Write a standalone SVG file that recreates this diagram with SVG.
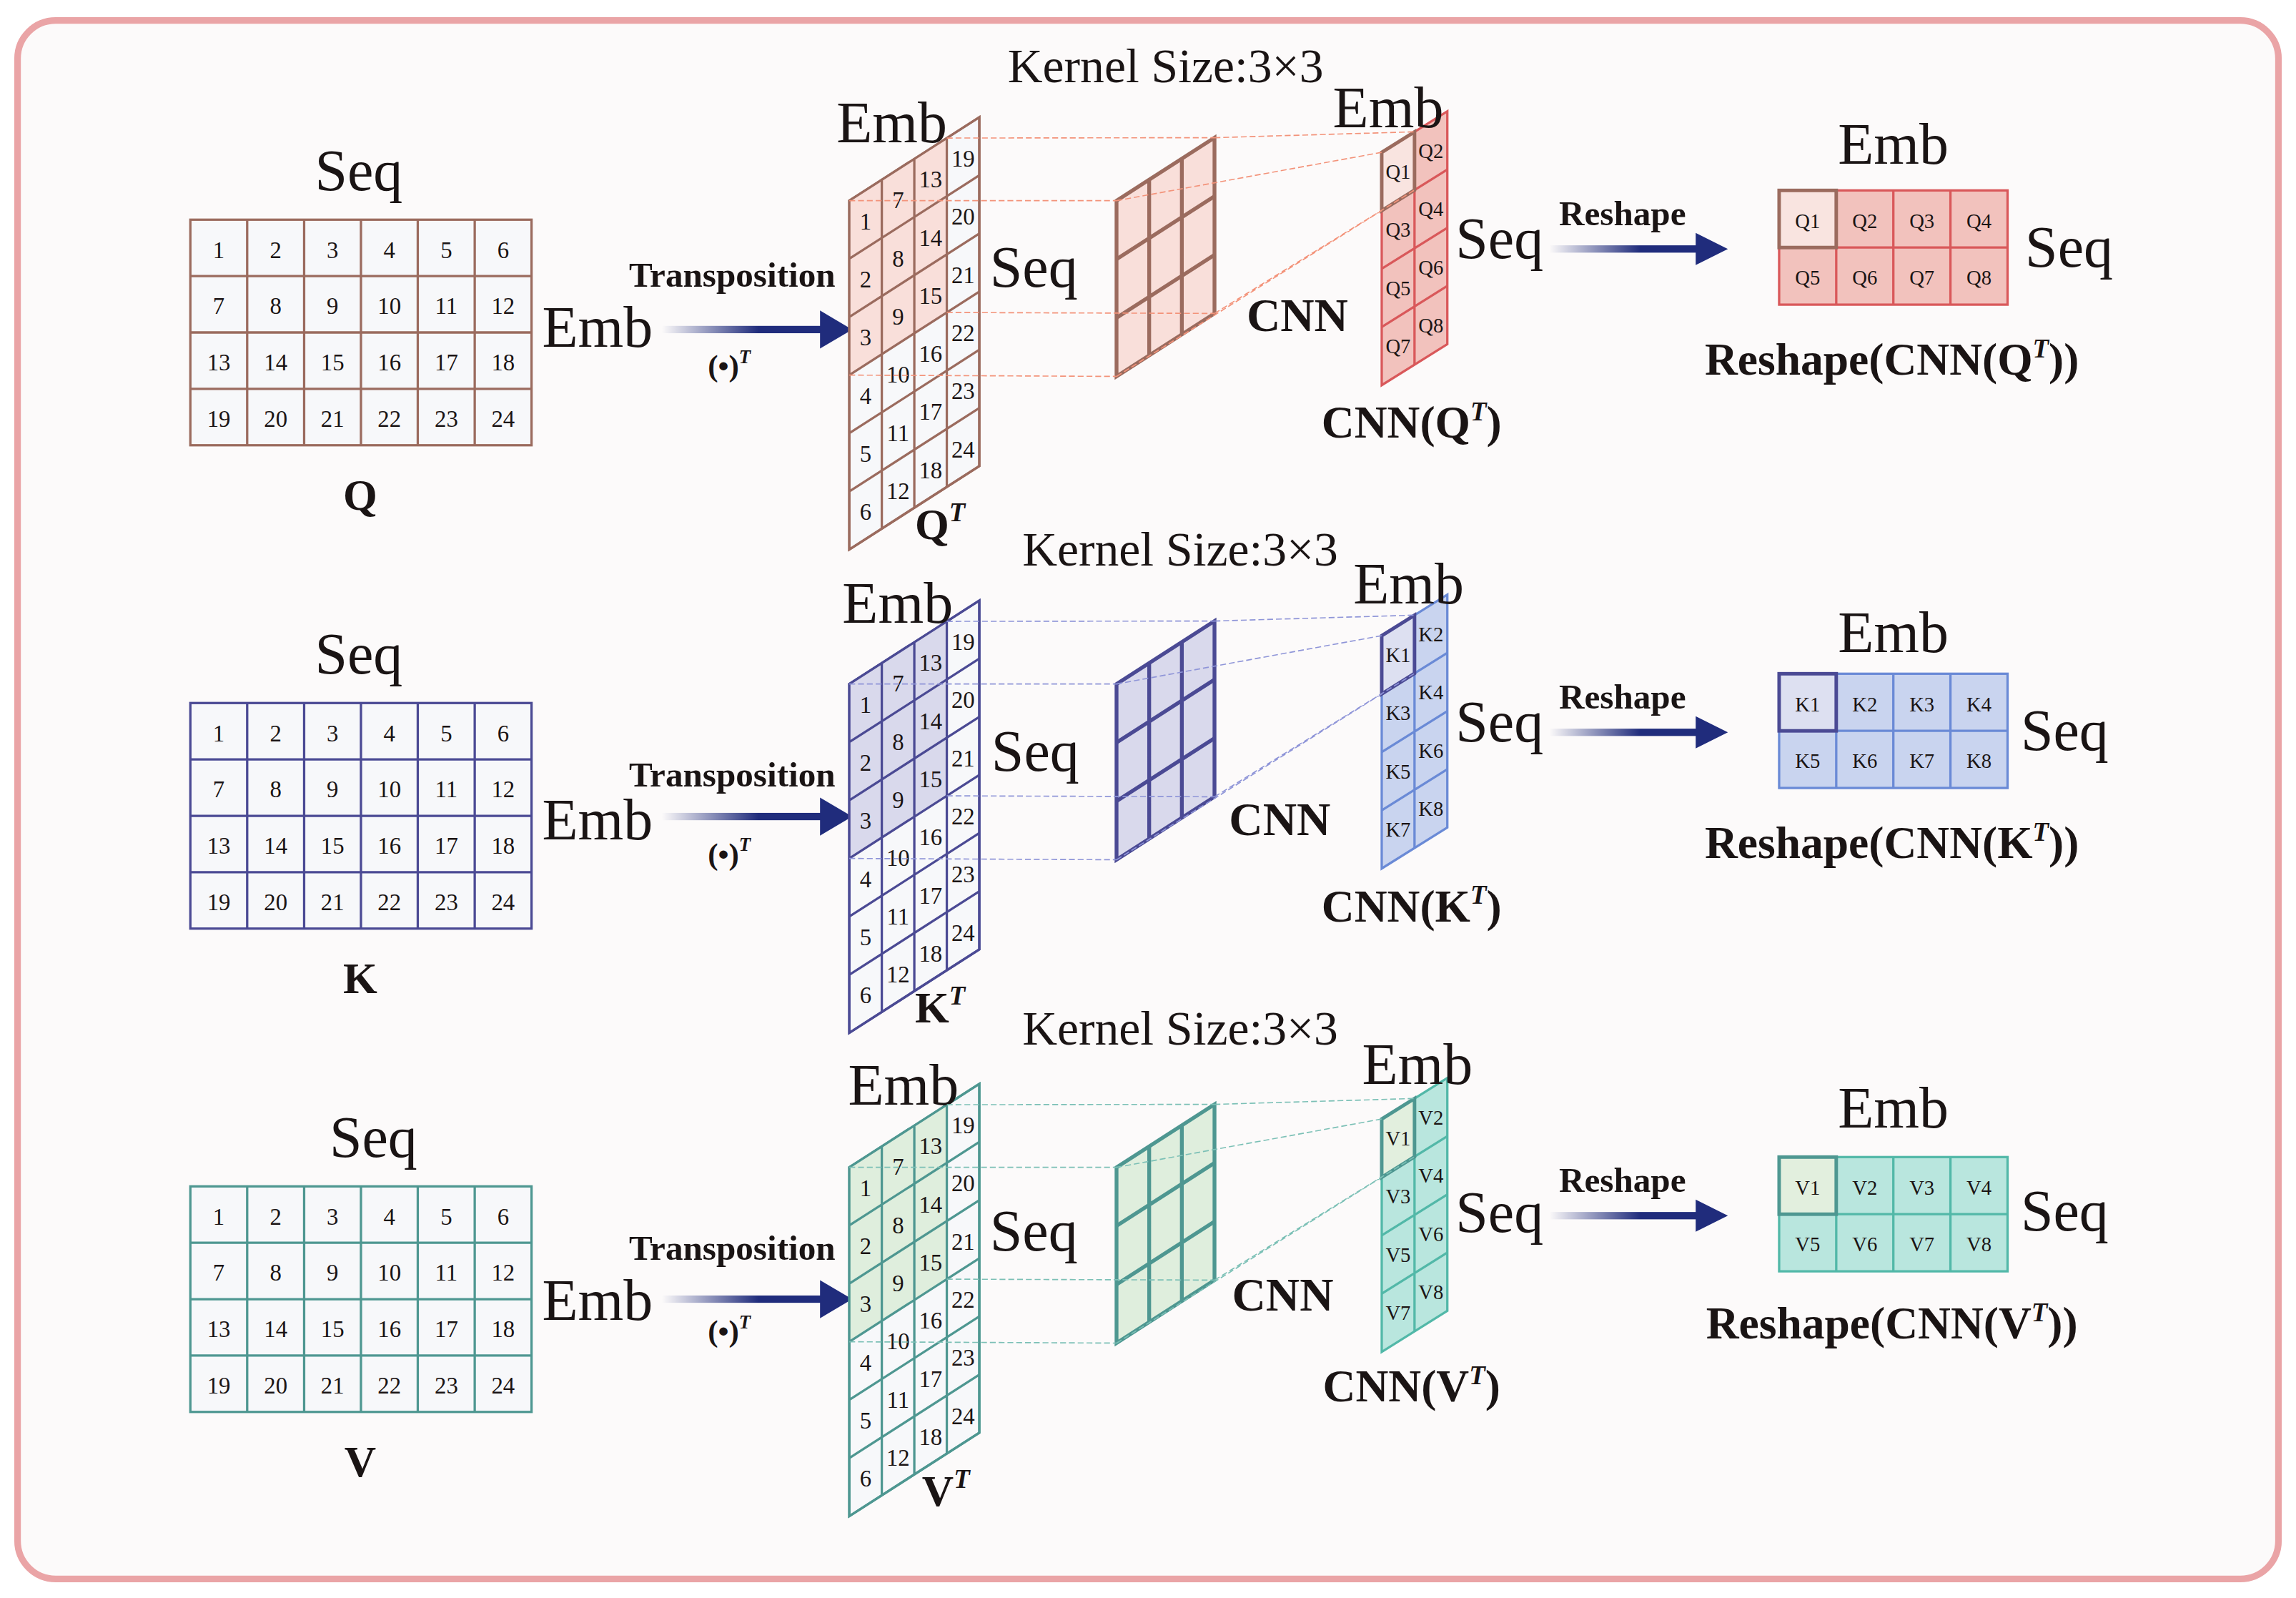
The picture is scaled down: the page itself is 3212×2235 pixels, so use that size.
<svg xmlns="http://www.w3.org/2000/svg" width="3212" height="2235" viewBox="0 0 3212 2235">
<style>
text{font-family:"Liberation Serif","Times New Roman",serif;fill:#1a1414}
.b{font-weight:bold}
.big{font-size:40px}
.num{font-size:16px;text-anchor:middle}
.sm{font-size:14px;text-anchor:middle}
.m{text-anchor:middle}
.sec{--s:#9b6b5e;--r:#f9dfda;--of:#f2c2bd;--os:#d9585a;--h:#f9e4e0;--d:#f3937a}
.sk{--s:#4b4a94;--r:#d9d9ec;--of:#c9d4ef;--os:#6a8ad6;--h:#dde0f1;--d:#8f95d8}
.sv{--s:#4e9791;--r:#dfeedd;--of:#b9e6de;--os:#52b8a8;--h:#e2efde;--d:#7cc0b6}
.g{fill:#f7f8fa;stroke:var(--s);stroke-width:1.6}
.gl{fill:none;stroke:var(--s);stroke-width:1.6}
.rg{fill:var(--r);stroke:none}
.kr{fill:var(--r);stroke:var(--s);stroke-width:2.6}
.kl{fill:none;stroke:var(--s);stroke-width:2.6}
.of{fill:var(--of);stroke:var(--os);stroke-width:1.6}
.ol{fill:none;stroke:var(--os);stroke-width:1.6}
.hi{fill:var(--h);stroke:var(--s);stroke-width:2.4}
.ds{fill:none;stroke:var(--d);stroke-width:0.8;stroke-dasharray:4 2}
.ah{fill:#202c7c}
</style>
<defs>
<linearGradient id="ag" x1="0" y1="0" x2="1" y2="0"><stop offset="0" stop-color="#202c7c" stop-opacity="0"/><stop offset="0.6" stop-color="#202c7c"/></linearGradient>
<g id="grid6">
<rect class="g" x="130" y="150" width="233" height="154"/>
<path class="gl" d="M168.8 150V304M207.7 150V304M246.5 150V304M285.3 150V304M324.2 150V304M130 188.5H363M130 227H363M130 265.5H363"/>
<g class="num"><text x="149.4" y="176">1</text><text x="188.3" y="176">2</text><text x="227.1" y="176">3</text><text x="265.9" y="176">4</text><text x="304.8" y="176">5</text><text x="343.6" y="176">6</text>
<text x="149.4" y="214.5">7</text><text x="188.3" y="214.5">8</text><text x="227.1" y="214.5">9</text><text x="265.9" y="214.5">10</text><text x="304.8" y="214.5">11</text><text x="343.6" y="214.5">12</text>
<text x="149.4" y="253">13</text><text x="188.3" y="253">14</text><text x="227.1" y="253">15</text><text x="265.9" y="253">16</text><text x="304.8" y="253">17</text><text x="343.6" y="253">18</text>
<text x="149.4" y="291.5">19</text><text x="188.3" y="291.5">20</text><text x="227.1" y="291.5">21</text><text x="265.9" y="291.5">22</text><text x="304.8" y="291.5">23</text><text x="343.6" y="291.5">24</text></g>
</g>
<g id="tgrid">
<path class="g" d="M580 137L668.8 80V318.2L580 375.2Z"/>
<path class="rg" d="M580 137L646.6 94.25V213.35L580 256.1Z"/>
<path class="gl" d="M580 137L668.8 80V318.2L580 375.2ZM602.2 122.75V360.95M624.4 108.5V346.7M646.6 94.25V332.45M580 176.7L668.8 119.7M580 216.4L668.8 159.4M580 256.1L668.8 199.1M580 295.8L668.8 238.8M580 335.5L668.8 278.5"/>
<g class="num"><text x="591.1" y="156.5">1</text><text x="591.1" y="196.2">2</text><text x="591.1" y="235.9">3</text><text x="591.1" y="275.6">4</text><text x="591.1" y="315.3">5</text><text x="591.1" y="355">6</text>
<text x="613.3" y="142.2">7</text><text x="613.3" y="181.9">8</text><text x="613.3" y="221.6">9</text><text x="613.3" y="261.3">10</text><text x="613.3" y="301">11</text><text x="613.3" y="340.7">12</text>
<text x="635.5" y="128">13</text><text x="635.5" y="167.7">14</text><text x="635.5" y="207.4">15</text><text x="635.5" y="247.1">16</text><text x="635.5" y="286.8">17</text><text x="635.5" y="326.5">18</text>
<text x="657.7" y="113.7">19</text><text x="657.7" y="153.4">20</text><text x="657.7" y="193.1">21</text><text x="657.7" y="232.8">22</text><text x="657.7" y="272.5">23</text><text x="657.7" y="312.2">24</text></g>
</g>
<g id="kern">
<path class="kr" d="M762.5 137L829.4 94V214L762.5 257Z"/>
<path class="kl" d="M784.8 122.67V242.67M807.1 108.33V228.33M762.5 177L829.4 134M762.5 217L829.4 174"/>
</g>
<g id="outg">
<path class="of" d="M943.6 104L988.4 76V235L943.6 263Z"/>
<path class="ol" d="M966 90V249M943.6 143.75L988.4 115.75M943.6 183.5L988.4 155.5M943.6 223.25L988.4 195.25"/>
<path class="hi" d="M943.6 104L966 90V129.75L943.6 143.75Z"/>
</g>
<g id="rsg">
<rect class="of" x="1215" y="130" width="156" height="78"/>
<path class="ol" d="M1254 130V208M1293 130V208M1332 130V208M1215 169H1371"/>
<rect class="hi" x="1215" y="130" width="39" height="39"/>
</g>
<g id="conn">
<path class="ds" d="M580 137H762.5M646.6 94.25L829.4 94M646.6 213.35L829.4 214M580 256.1L762.5 257M829.4 94L966 90M762.5 137L943.6 104M829.4 214L966 129.75M762.5 257L943.6 143.75"/>
<text class="b m" x="1108" y="154" font-size="24">Reshape</text>
<rect x="1058" y="167.5" width="104" height="5" fill="url(#ag)"/>
<path class="ah" d="M1158 159L1180 170L1158 181Z"/>
</g>
</defs>
<g transform="scale(2.0485)">
<rect x="12" y="14" width="1544" height="1064" rx="26" fill="#fcfafa" stroke="#eaa4a6" stroke-width="4.5"/>

<g id="sectionQ" class="sec">
<g id="Q">
<text class="big m" x="245" y="130">Seq</text>
<use href="#grid6"/>
<text class="big m" x="408" y="237">Emb</text>
<text class="b m" x="246" y="348" font-size="30">Q</text>
</g>
<g id="transQ">
<text class="b m" x="500" y="196" font-size="24">Transposition</text>
<rect x="452" y="222.5" width="110" height="5" fill="url(#ag)"/>
<path class="ah" d="M560 212L582 225L560 238Z"/>
<text class="b m" x="498" y="257" font-size="21">(•)<tspan font-style="italic" font-size="13" dy="-9">T</tspan></text>
</g>
<g id="QT">
<use href="#tgrid"/>
<text class="big m" x="609" y="97">Emb</text>
<text class="big m" x="706" y="196">Seq</text>
<text class="b m" x="642" y="368" font-size="30">Q<tspan font-style="italic" font-size="18" dy="-12">T</tspan></text>
</g>
<g id="kernelQ">
<use href="#kern"/>
<text class="m" x="796" y="56" font-size="33">Kernel Size:3×3</text>
<text class="b m" x="886" y="226" font-size="32">CNN</text>
</g>
<g id="cnnQ">
<use href="#outg"/>
<g class="sm"><text x="954.8" y="122">Q1</text><text x="977.2" y="108">Q2</text><text x="954.8" y="161.6">Q3</text><text x="977.2" y="147.6">Q4</text><text x="954.8" y="201.4">Q5</text><text x="977.2" y="187.4">Q6</text><text x="954.8" y="241.2">Q7</text><text x="977.2" y="227.2">Q8</text></g>
<text class="big m" x="948" y="87">Emb</text>
<text class="big m" x="1024" y="176">Seq</text>
<text class="b m" x="964" y="299" font-size="31">CNN(Q<tspan font-style="italic" font-size="18" dy="-12">T</tspan><tspan dy="12">)</tspan></text>
</g>
<g id="reshapeQ">
<use href="#rsg"/>
<g class="sm"><text x="1234.5" y="155.5">Q1</text><text x="1273.5" y="155.5">Q2</text><text x="1312.5" y="155.5">Q3</text><text x="1351.5" y="155.5">Q4</text><text x="1234.5" y="194.5">Q5</text><text x="1273.5" y="194.5">Q6</text><text x="1312.5" y="194.5">Q7</text><text x="1351.5" y="194.5">Q8</text></g>
<text class="big m" x="1293" y="112">Emb</text>
<text class="big m" x="1413" y="182">Seq</text>
<text class="b m" x="1292" y="256" font-size="31">Reshape(CNN(Q<tspan font-style="italic" font-size="18" dy="-12">T</tspan><tspan dy="12">))</tspan></text>
</g>
<g id="connQ"><use href="#conn"/></g>
</g>

<g id="sectionK" class="sec sk" transform="translate(0,330)">
<g id="K">
<text class="big m" x="245" y="130">Seq</text>
<use href="#grid6"/>
<text class="big m" x="408" y="243">Emb</text>
<text class="b m" x="246" y="348" font-size="30">K</text>
</g>
<g id="transK">
<text class="b m" x="500" y="207" font-size="24">Transposition</text>
<rect x="452" y="225" width="110" height="5" fill="url(#ag)"/>
<path class="ah" d="M560 214.5L582 227.5L560 240.5Z"/>
<text class="b m" x="498" y="260" font-size="21">(•)<tspan font-style="italic" font-size="13" dy="-9">T</tspan></text>
</g>
<g id="KT">
<use href="#tgrid"/>
<text class="big m" x="613" y="95">Emb</text>
<text class="big m" x="707" y="196">Seq</text>
<text class="b m" x="642" y="368" font-size="30">K<tspan font-style="italic" font-size="18" dy="-12">T</tspan></text>
</g>
<g id="kernelK">
<use href="#kern"/>
<text class="m" x="806" y="56" font-size="33">Kernel Size:3×3</text>
<text class="b m" x="874" y="240" font-size="32">CNN</text>
</g>
<g id="cnnK">
<use href="#outg"/>
<g class="sm"><text x="954.8" y="122">K1</text><text x="977.2" y="108">K2</text><text x="954.8" y="161.6">K3</text><text x="977.2" y="147.6">K4</text><text x="954.8" y="201.4">K5</text><text x="977.2" y="187.4">K6</text><text x="954.8" y="241.2">K7</text><text x="977.2" y="227.2">K8</text></g>
<text class="big m" x="962" y="82">Emb</text>
<text class="big m" x="1024" y="176">Seq</text>
<text class="b m" x="964" y="299" font-size="31">CNN(K<tspan font-style="italic" font-size="18" dy="-12">T</tspan><tspan dy="12">)</tspan></text>
</g>
<g id="reshapeK">
<use href="#rsg"/>
<g class="sm"><text x="1234.5" y="155.5">K1</text><text x="1273.5" y="155.5">K2</text><text x="1312.5" y="155.5">K3</text><text x="1351.5" y="155.5">K4</text><text x="1234.5" y="194.5">K5</text><text x="1273.5" y="194.5">K6</text><text x="1312.5" y="194.5">K7</text><text x="1351.5" y="194.5">K8</text></g>
<text class="big m" x="1293" y="115">Emb</text>
<text class="big m" x="1410" y="182">Seq</text>
<text class="b m" x="1292" y="256" font-size="31">Reshape(CNN(K<tspan font-style="italic" font-size="18" dy="-12">T</tspan><tspan dy="12">))</tspan></text>
</g>
<g id="connK"><use href="#conn"/></g>
</g>

<g id="sectionV" class="sec sv" transform="translate(0,660)">
<g id="V">
<text class="big m" x="255" y="130">Seq</text>
<use href="#grid6"/>
<text class="big m" x="408" y="241">Emb</text>
<text class="b m" x="246" y="348" font-size="30">V</text>
</g>
<g id="transV">
<text class="b m" x="500" y="200" font-size="24">Transposition</text>
<rect x="452" y="224.5" width="110" height="5" fill="url(#ag)"/>
<path class="ah" d="M560 214L582 227L560 240Z"/>
<text class="b m" x="498" y="256" font-size="21">(•)<tspan font-style="italic" font-size="13" dy="-9">T</tspan></text>
</g>
<g id="VT">
<use href="#tgrid"/>
<text class="big m" x="617" y="94">Emb</text>
<text class="big m" x="706" y="194">Seq</text>
<text class="b m" x="646" y="368" font-size="30">V<tspan font-style="italic" font-size="18" dy="-12">T</tspan></text>
</g>
<g id="kernelV">
<use href="#kern"/>
<text class="m" x="806" y="53" font-size="33">Kernel Size:3×3</text>
<text class="b m" x="876" y="235" font-size="32">CNN</text>
</g>
<g id="cnnV">
<use href="#outg"/>
<g class="sm"><text x="954.8" y="122">V1</text><text x="977.2" y="108">V2</text><text x="954.8" y="161.6">V3</text><text x="977.2" y="147.6">V4</text><text x="954.8" y="201.4">V5</text><text x="977.2" y="187.4">V6</text><text x="954.8" y="241.2">V7</text><text x="977.2" y="227.2">V8</text></g>
<text class="big m" x="968" y="80">Emb</text>
<text class="big m" x="1024" y="181">Seq</text>
<text class="b m" x="964" y="297" font-size="31">CNN(V<tspan font-style="italic" font-size="18" dy="-12">T</tspan><tspan dy="12">)</tspan></text>
</g>
<g id="reshapeV">
<use href="#rsg"/>
<g class="sm"><text x="1234.5" y="155.5">V1</text><text x="1273.5" y="155.5">V2</text><text x="1312.5" y="155.5">V3</text><text x="1351.5" y="155.5">V4</text><text x="1234.5" y="194.5">V5</text><text x="1273.5" y="194.5">V6</text><text x="1312.5" y="194.5">V7</text><text x="1351.5" y="194.5">V8</text></g>
<text class="big m" x="1293" y="110">Emb</text>
<text class="big m" x="1410" y="180">Seq</text>
<text class="b m" x="1292" y="254" font-size="31">Reshape(CNN(V<tspan font-style="italic" font-size="18" dy="-12">T</tspan><tspan dy="12">))</tspan></text>
</g>
<g id="connV"><use href="#conn"/></g>
</g>
</g>
</svg>
